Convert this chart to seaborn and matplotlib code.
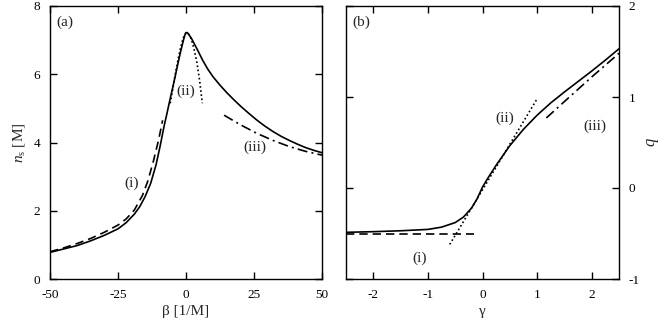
import numpy as np
import pandas as pd
import matplotlib
matplotlib.use("Agg")
import matplotlib.pyplot as plt
import seaborn as sns

# ---------------- data: panel (a) ----------------
beta_solid = [-50, -45, -40, -35, -30, -25, -22, -19, -17, -15, -13, -11, -9.5, -8, -7, -6, -5, -4, -3, -2, -1, -0.5, 0,
              0.5, 1, 2, 3, 4.5, 6, 8, 10, 12.5, 15, 17.5, 20, 23, 26, 29, 32, 35, 38, 41, 44, 47, 50]
ns_solid = [0.78, 0.88, 0.98, 1.12, 1.28, 1.47, 1.65, 1.9, 2.12, 2.42, 2.8, 3.35, 3.9, 4.5, 4.85, 5.22, 5.57, 5.93, 6.3, 6.66, 6.98, 7.13, 7.22,
            7.22, 7.17, 7.05, 6.9, 6.67, 6.43, 6.15, 5.92, 5.68, 5.46, 5.26, 5.07, 4.86, 4.66, 4.48, 4.32, 4.18, 4.06, 3.95, 3.85, 3.77, 3.7]

beta_i = [-50, -45, -40, -35, -30, -25, -22, -19, -16, -14, -12, -10, -8.6]
ns_i = [0.80, 0.91, 1.04, 1.19, 1.37, 1.58, 1.76, 2.02, 2.45, 2.88, 3.45, 4.1, 4.65]

beta_ii = [-5.8, -5, -4, -3, -2, -1, 0, 1, 2, 3, 4, 5, 6]
ns_ii = [5.15, 5.5, 5.98, 6.4, 6.78, 7.07, 7.22, 7.17, 7.02, 6.72, 6.35, 5.82, 5.15]

beta_iii = [14, 20, 26, 32, 38, 44, 50]
ns_iii = [4.8, 4.52, 4.27, 4.06, 3.88, 3.74, 3.63]

xticks_a = [-50, -25, 0, 25, 50]
yticks_a = [0, 2, 4, 6, 8]

# ---------------- data: panel (b) ----------------
gamma_solid = [-2.5, -2, -1.5, -1, -0.75, -0.5, -0.35, -0.2, -0.1, 0, 0.1, 0.25, 0.5, 0.75, 1, 1.25, 1.5, 1.75, 2, 2.25, 2.5]
q_solid = [-0.487, -0.48, -0.47, -0.455, -0.43, -0.38, -0.32, -0.22, -0.12, 0.01, 0.11, 0.25, 0.465, 0.645, 0.80, 0.935, 1.055, 1.17, 1.285, 1.405, 1.53]

gamma_i = [-2.5, -0.15]
q_i = [-0.51, -0.51]

gamma_ii = [-0.6, 1.0]
q_ii = [-0.62, 0.98]

gamma_iii = [1.17, 1.5, 2.0, 2.5]
q_iii = [0.77, 0.95, 1.22, 1.48]

xticks_b = [-2, -1, 0, 1, 2]
yticks_b = [-1, 0, 1, 2]

# ---------------- style ----------------
sns.set_theme(style="ticks")
plt.rcParams["font.family"] = ["Liberation Serif", "DejaVu Serif"]
plt.rcParams["mathtext.fontset"] = "custom"
plt.rcParams["mathtext.rm"] = "Liberation Serif"
plt.rcParams["mathtext.it"] = "Liberation Serif:italic"
plt.rcParams["axes.linewidth"] = 1.0

fig = plt.figure(figsize=(6.65, 3.23), dpi=100)
ax1 = fig.add_axes([50 / 665, 1 - 279 / 323, 272 / 665, 273 / 323])
ax2 = fig.add_axes([346 / 665, 1 - 279 / 323, 273 / 665, 273 / 323])

lw = 1.2
k = "black"

# panel (a)
sns.lineplot(x=beta_solid, y=ns_solid, ax=ax1, color=k, lw=lw, sort=False)
sns.lineplot(x=beta_i, y=ns_i, ax=ax1, color=k, lw=lw, linestyle=(0, (5, 3)), sort=False)
sns.lineplot(x=beta_ii, y=ns_ii, ax=ax1, color=k, lw=lw, linestyle=(0, (1, 1.5)), sort=False)
sns.lineplot(x=beta_iii, y=ns_iii, ax=ax1, color=k, lw=lw, linestyle=(0, (6, 2.5, 1.2, 2.5)), sort=False)

ax1.set_xlim(-50, 50)
ax1.set_ylim(0, 8)
ax1.set_xticks(xticks_a)
ax1.set_yticks(yticks_a)
ax1.set_xticklabels([str(t) for t in xticks_a])
ax1.set_yticklabels([str(t) for t in yticks_a])
ax1.set_xlabel("β [1/M]", fontsize=11, labelpad=3)
ax1.set_ylabel(r"$n_{\mathrm{s}}$ [M]", fontsize=11, labelpad=5)
ax1.text(0.025, 0.965, "(a)", transform=ax1.transAxes, fontsize=11, va="top", ha="left")
ax1.text(-20, 2.8, "(i)", fontsize=11, ha="center", va="center")
ax1.text(0, 5.5, "(ii)", fontsize=11, ha="center", va="center")
ax1.text(25.5, 3.85, "(iii)", fontsize=11, ha="center", va="center")

# panel (b)
sns.lineplot(x=gamma_solid, y=q_solid, ax=ax2, color=k, lw=lw, sort=False)
sns.lineplot(x=gamma_i, y=q_i, ax=ax2, color=k, lw=lw, linestyle=(0, (5, 3)), sort=False)
sns.lineplot(x=gamma_ii, y=q_ii, ax=ax2, color=k, lw=lw, linestyle=(0, (1, 1.5)), sort=False)
sns.lineplot(x=gamma_iii, y=q_iii, ax=ax2, color=k, lw=lw, linestyle=(0, (6, 2.5, 1.2, 2.5)), sort=False)

ax2.set_xlim(-2.5, 2.5)
ax2.set_ylim(-1, 2)
ax2.set_xticks(xticks_b)
ax2.set_yticks(yticks_b)
ax2.set_xticklabels([str(t) for t in xticks_b])
ax2.set_yticklabels([str(t) for t in yticks_b])
ax2.yaxis.set_label_position("right")
ax2.set_xlabel("γ", fontsize=11, labelpad=3)
ax2.set_ylabel(r"$q$", fontsize=12, labelpad=4)
ax2.text(0.025, 0.965, "(b)", transform=ax2.transAxes, fontsize=11, va="top", ha="left")
ax2.text(-1.15, -0.77, "(i)", fontsize=11, ha="center", va="center")
ax2.text(0.4, 0.77, "(ii)", fontsize=11, ha="center", va="center")
ax2.text(2.05, 0.68, "(iii)", fontsize=11, ha="center", va="center")

for ax in (ax1, ax2):
    ax.tick_params(direction="in", length=5, width=1.0, top=True, right=True,
                   labelsize=9.5, colors="black")
    ax.tick_params(axis="x", pad=7)
    ax.tick_params(axis="y", pad=7)
    for s in ax.spines.values():
        s.set_visible(True)
        s.set_color("black")
        s.set_linewidth(1.0)
ax2.tick_params(labelleft=False, labelright=True)

fig.savefig("out.png", dpi=100)
